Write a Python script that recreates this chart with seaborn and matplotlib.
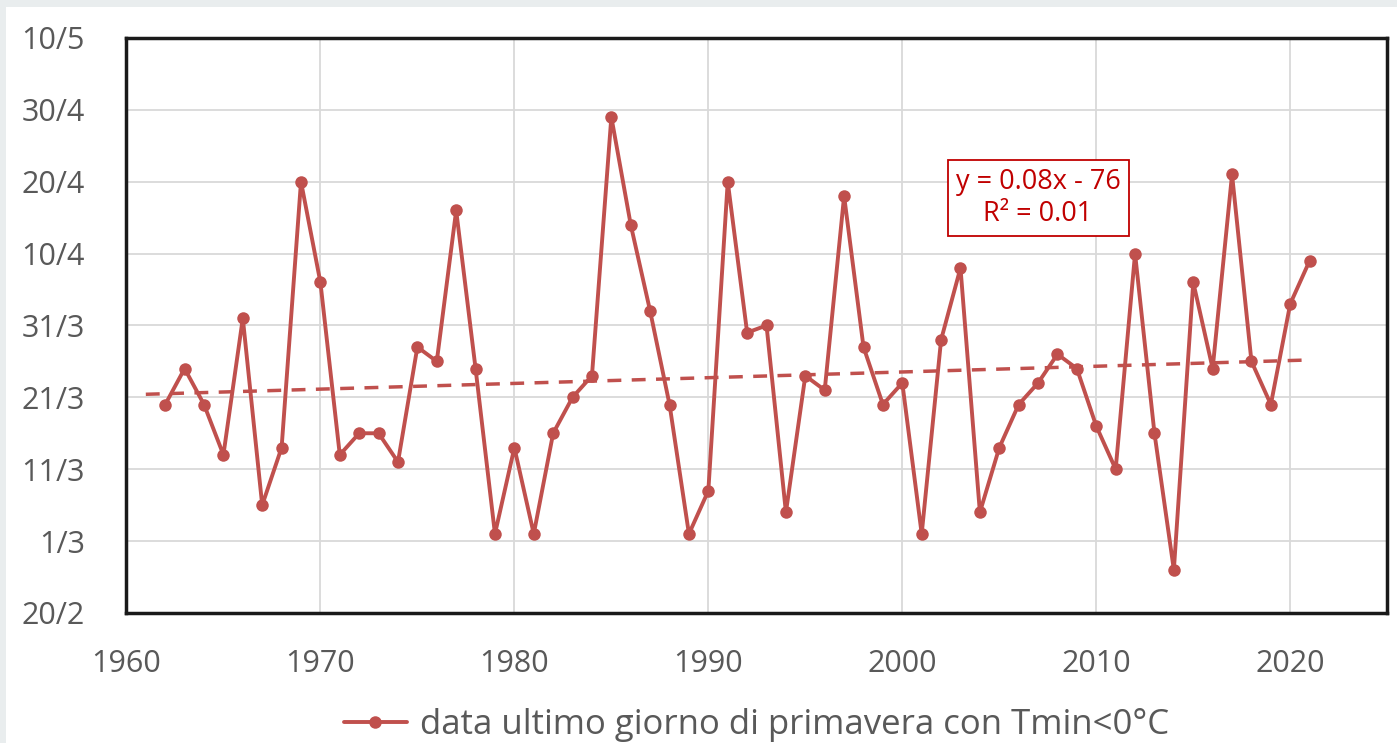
import numpy as np
import pandas as pd
import matplotlib
matplotlib.use("Agg")
import matplotlib.pyplot as plt
import seaborn as sns
from matplotlib.patches import Rectangle

# ---- data (y = day number, Excel-style serial: 51 = 20/2, 61 = 1/3, ...) ----
years = list(range(1962, 2022))
last_frost_day = [80, 85, 80, 73, 92, 66, 74, 111, 97, 73,
                  76, 76, 72, 88, 86, 107, 85, 62, 74, 62,
                  76, 81, 84, 120, 105, 93, 80, 62, 68, 111,
                  90, 91, 65, 84, 82, 109, 88, 80, 83, 62,
                  89, 99, 65, 74, 80, 83, 87, 85, 77, 71,
                  101, 76, 57, 97, 85, 112, 86, 80, 94, 100]
ytick_values = [51, 61, 71, 81, 91, 101, 111, 121, 131]
ytick_labels = ["20/2", "1/3", "11/3", "21/3", "31/3", "10/4", "20/4", "30/4", "10/5"]
xtick_values = [1960, 1970, 1980, 1990, 2000, 2010, 2020]
series_label = "data ultimo giorno di primavera con Tmin<0°C"
trend_text = "y = 0.08x - 76\nR² = 0.01"
trend_span = [1961, 2021]

df = pd.DataFrame({"anno": years, "giorno": last_frost_day})

sns.set_style("whitegrid")
plt.rcParams["font.family"] = ["Open Sans", "DejaVu Sans"]

red = "#C0504D"
txt = "#595959"

fig = plt.figure(figsize=(13.97, 7.43), dpi=100, facecolor="white")
# light grey frame strip at top / left like the screenshot
fig.patches.append(Rectangle((0, 0.991), 1, 0.009, transform=fig.transFigure,
                             facecolor="#e9edee", edgecolor="none", zorder=0))
fig.patches.append(Rectangle((0, 0), 0.0045, 1, transform=fig.transFigure,
                             facecolor="#e9edee", edgecolor="none", zorder=0))

ax = fig.add_axes([0.0905, 0.175, 0.9025, 0.774])

sns.lineplot(data=df, x="anno", y="giorno", ax=ax, color=red, linewidth=2.8,
             marker="o", markersize=9, markeredgewidth=0, label=series_label, zorder=3)

# linear trend
coef = np.polyfit(df["anno"], df["giorno"], 1)
tx = np.array(trend_span, dtype=float)
ax.plot(tx, np.polyval(coef, tx), color=red, linewidth=2.5, linestyle=(0, (4, 3)), zorder=2)

ax.text(2007.0, 108.7, trend_text, color="#C00000", fontsize=19.5, ha="center", va="center",
        linespacing=1.2,
        bbox=dict(boxstyle="square,pad=0.3", facecolor="white", edgecolor="#C00000", linewidth=1.3),
        zorder=5)

ax.set_xlim(1960, 2025)
ax.set_ylim(51, 131)
ax.set_xticks(xtick_values)
ax.set_yticks(ytick_values)
ax.set_yticklabels(ytick_labels)
ax.tick_params(axis="both", labelsize=22, colors=txt, length=0)
ax.tick_params(axis="y", pad=30)
ax.tick_params(axis="x", pad=26)
ax.set_xlabel("")
ax.set_ylabel("")
ax.grid(True, color="#d9d9d9", linewidth=1.3)
for s in ax.spines.values():
    s.set_visible(True)
    s.set_color("#1a1a1a")
    s.set_linewidth(2.5)

ax.legend(loc="center", bbox_to_anchor=(0.5, -0.195), frameon=False, fontsize=25,
          labelcolor=txt, handlelength=1.8, handletextpad=0.4)

fig.savefig("out.png", dpi=100, facecolor=fig.get_facecolor())
